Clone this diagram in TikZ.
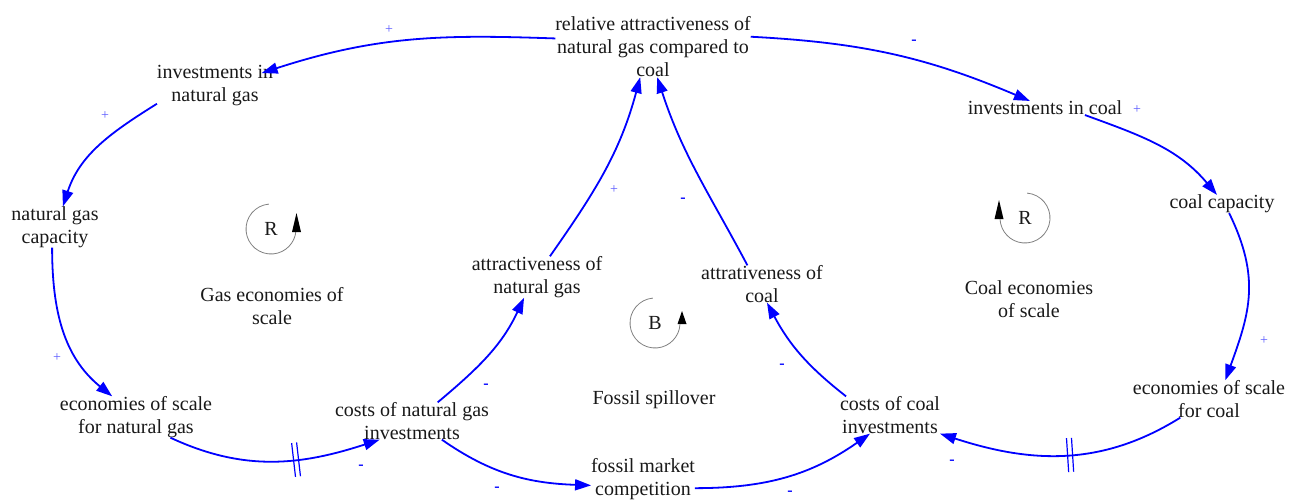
\documentclass[tikz,border=0pt]{standalone}
\usepackage{fontspec}
\setmainfont{Liberation Serif}
\usetikzlibrary{arrows.meta,decorations.markings}
\definecolor{lnk}{RGB}{0,0,255}
\definecolor{plusc}{RGB}{90,90,255}
\tikzset{
  var/.style={font=\fontsize{20}{23}\selectfont, align=center, inner sep=0pt, outer sep=0pt, text=black!90},
  lbl/.style={font=\fontsize{20}{23}\selectfont, align=center, inner sep=0pt, text=black!90},
  link/.style={draw=lnk, line width=1.8pt, -{Triangle[length=16pt,width=11pt]}},
  plussign/.style={text=plusc, font=\fontsize{14}{14}\selectfont, inner sep=0pt},
  minussign/.style={text=lnk, font=\fontsize{16}{16}\selectfont\bfseries, inner sep=0pt},
  loopc/.style={draw=gray, line width=0.8pt},
  looptip/.style={fill=black, draw=none},
  delay/.style={postaction={decorate}, decoration={markings, mark=at position #1 with {\draw[lnk, line width=1.2pt, -] (-2.5,-17)--(-2.5,17) (2.5,-17)--(2.5,17);}}}
}
\begin{document}
\begin{tikzpicture}[x=1pt,y=1pt]
\useasboundingbox (0,0) rectangle (1289,499);
% variables
\node[var] (rel) at (653,452) {relative attractiveness of\\natural gas compared to\\coal};
\node[var] (ig) at (215,413) {investments in\\natural gas};
\node[var] (ic) at (1045,391) {investments in coal};
\node[var] (ngc) at (55,272) {natural gas\\capacity};
\node[var] (cc) at (1222,295) {coal capacity};
\node[var] (esg) at (136,82) {economies of scale\\for natural gas};
\node[var] (esc) at (1209,100) {economies of scale\\for coal};
\node[var] (cg) at (412,78) {costs of natural gas\\investments};
\node[var] (ccl) at (890,84) {costs of coal\\investments};
\node[var] (ag) at (537,222) {attractiveness of\\natural gas};
\node[var] (ac) at (762,215) {attrativeness of\\coal};
\node[var] (fm) at (643,20) {fossil market\\competition};
% loop labels
\node[lbl] (l1) at (272,193) {Gas economies of\\scale};
\node[lbl] (l2) at (1029,200) {Coal economies\\of scale};
\node[lbl] (l3) at (654,99) {Fossil spillover};
\node[lbl] (gR) at (271,270) {R};
\node[lbl] (bB) at (655,176) {B};
\node[lbl] (cR) at (1025,281) {R};
\draw[loopc] (gR.center) ++(95:25) arc[start angle=95, end angle=357, radius=25];
\fill[looptip] (gR.center) ++(21,-3) -- ++(9,0) -- ++(-4.5,19) -- cycle;
\draw[loopc] (bB.center) ++(95:25) arc[start angle=95, end angle=357, radius=25];
\fill[looptip] (bB.center) ++(22.5,-1) -- ++(9,0) -- ++(-4.5,13) -- cycle;
\draw[loopc] (cR.center) ++(85:25) arc[start angle=85, end angle=-177, radius=25];
\fill[looptip] (cR.center) ++(-30.5,-1) -- ++(9,0) -- ++(-4.5,19) -- cycle;
% links
\draw[link, shorten >=-12pt] (rel.175) to[out=178, in=18] (ig.16);
\draw[link] (rel.6) to[out=-3, in=157] (ic.155);
\draw[link] (ig.197) to[out=212, in=72] (ngc.69);
\draw[link] (ngc.262) to[out=270, in=141] (esg.139);
\draw[link, delay=0.6] (esg.329) to[out=-25, in=198] (cg.210);
\draw[link] (cg.36) to[out=40, in=245] (ag.238);
\draw[link] (ag.58) to[out=55, in=255] (rel.247);
\draw[link] (ac.128) to[out=118, in=-72] (rel.278);
\draw[link] (ccl.157) to[out=142, in=-62] (ac.285);
\draw[link] (cg.328) to[out=-35, in=178] (fm.187);
\draw[link] (fm.350) to[out=0, in=215] (ccl.223);
\draw[link] (ic.350) to[out=-20, in=130] (cc.119);
\draw[link] (cc.308) to[out=-64, in=70, looseness=1.1] (esc.49);
\draw[link, delay=0.47] (esc.213) to[out=212, in=-18] (ccl.south east);
% polarities
\node[plussign] (p1) at (389,469) {+};
\node[minussign] (n1) at (914,457) {-};
\node[plussign] (p2) at (105,383) {+};
\node[plussign] (p3) at (1137,389) {+};
\node[plussign] (p4) at (614,309) {+};
\node[minussign] (n2) at (683,299) {-};
\node[plussign] (p5) at (57,141) {+};
\node[plussign] (p6) at (1264,158) {+};
\node[minussign] (n3) at (486,113) {-};
\node[minussign] (n4) at (782,133) {-};
\node[minussign] (n5) at (361,32) {-};
\node[minussign] (n6) at (952,37) {-};
\node[minussign] (n7) at (497,10) {-};
\node[minussign] (n8) at (790,6) {-};
\end{tikzpicture}
\end{document}
